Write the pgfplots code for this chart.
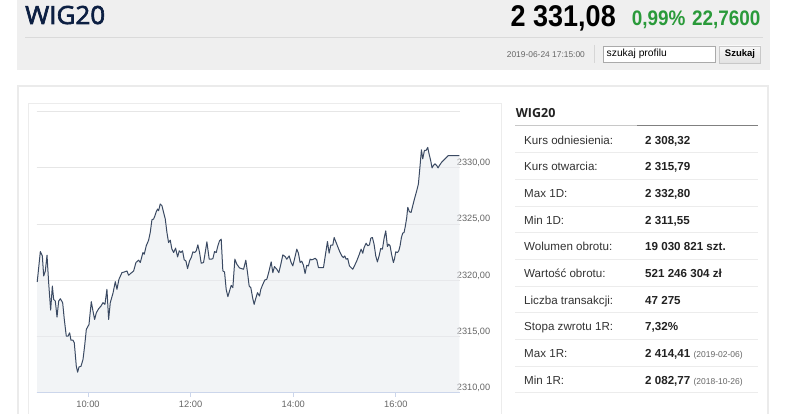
\documentclass[border=0pt]{standalone}
\usepackage{pgfplots}
\pgfplotsset{compat=1.18}
\usepackage{pgfplotstable}
\usepackage{fontspec}
\setmainfont{Liberation Sans}
\newfontfamily\cond[FakeStretch=0.9]{Liberation Sans}
\newfontfamily\osans{Open Sans}
\newfontfamily\osanshead[FakeBold=2.6,FakeStretch=1.04]{Open Sans}
\definecolor{bannerc}{HTML}{EFEFEF}
\definecolor{navy}{HTML}{0C1F42}
\definecolor{greenc}{HTML}{2A9A3A}
\definecolor{linec}{HTML}{3B4A63}
\definecolor{fillc}{HTML}{E8EBF0}
\definecolor{gridc}{HTML}{E6E6E6}
\definecolor{axisc}{HTML}{CCD6EB}
\definecolor{labc}{HTML}{666666}
\definecolor{framec}{HTML}{EBEBEB}
\definecolor{rowc}{HTML}{ECECEC}
\definecolor{txtc}{HTML}{333333}

\pgfplotstableread{
t v
9.010 2319.85
9.071 2322.56
9.110 2322.17
9.136 2320.39
9.168 2320.83
9.201 2322.23
9.233 2319.79
9.272 2317.35
9.305 2319.49
9.331 2318.30
9.363 2318.15
9.396 2316.73
9.428 2318.15
9.461 2318.36
9.506 2318.01
9.538 2316.52
9.577 2315.03
9.610 2315.03
9.642 2315.33
9.668 2314.67
9.707 2314.67
9.733 2314.43
9.772 2312.35
9.798 2311.82
9.824 2312.29
9.863 2312.35
9.902 2312.95
9.934 2314.14
9.967 2315.63
10.019 2316.07
10.064 2318.10
10.097 2317.26
10.129 2316.52
10.162 2317.11
10.207 2317.47
10.253 2317.71
10.291 2318.01
10.330 2317.86
10.369 2319.20
10.402 2316.52
10.434 2318.01
10.486 2318.84
10.532 2319.88
10.564 2319.20
10.603 2320.09
10.661 2320.68
10.707 2320.74
10.759 2320.83
10.791 2320.45
10.836 2320.63
10.889 2320.83
10.934 2321.58
10.986 2321.79
11.019 2321.58
11.070 2322.47
11.096 2322.32
11.135 2323.07
11.181 2323.57
11.213 2324.26
11.246 2325.39
11.278 2325.45
11.304 2325.74
11.330 2326.10
11.356 2326.34
11.376 2326.19
11.408 2326.79
11.441 2326.64
11.473 2326.04
11.506 2325.45
11.538 2324.26
11.570 2323.36
11.603 2323.57
11.635 2322.77
11.668 2322.47
11.707 2322.86
11.746 2322.08
11.778 2322.62
11.810 2322.47
11.843 2322.62
11.875 2321.82
11.908 2321.73
11.940 2321.04
11.979 2321.73
12.012 2322.02
12.044 2322.53
12.077 2322.47
12.109 2322.62
12.141 2323.15
12.174 2322.47
12.206 2321.52
12.252 2321.58
12.284 2322.47
12.317 2323.42
12.336 2322.77
12.362 2321.88
12.401 2321.88
12.434 2321.93
12.466 2322.56
12.499 2322.47
12.531 2323.07
12.563 2323.51
12.596 2323.66
12.628 2320.83
12.661 2320.74
12.693 2319.20
12.726 2318.54
12.758 2319.05
12.791 2319.55
12.823 2319.35
12.862 2321.88
12.901 2321.43
12.953 2321.10
12.992 2321.04
13.031 2320.98
13.076 2321.79
13.109 2320.68
13.141 2319.49
13.173 2319.35
13.212 2318.36
13.238 2317.86
13.264 2318.30
13.303 2318.90
13.342 2318.60
13.368 2319.20
13.407 2319.64
13.446 2320.03
13.485 2320.09
13.524 2320.74
13.570 2321.64
13.602 2320.68
13.634 2321.22
13.680 2320.98
13.719 2320.68
13.758 2321.43
13.797 2322.26
13.842 2322.11
13.874 2321.88
13.920 2322.17
13.959 2321.58
13.991 2321.28
14.024 2321.88
14.069 2322.77
14.101 2322.41
14.134 2321.58
14.166 2321.70
14.199 2321.34
14.231 2320.60
14.264 2321.34
14.296 2321.28
14.329 2321.88
14.361 2321.82
14.394 2321.88
14.426 2321.96
14.459 2321.82
14.491 2321.13
14.537 2321.13
14.589 2321.13
14.634 2322.47
14.667 2323.45
14.699 2322.41
14.732 2323.13
14.771 2323.13
14.797 2323.81
14.836 2323.36
14.881 2322.83
14.913 2322.47
14.946 2322.17
14.978 2322.02
15.004 2322.17
15.030 2321.88
15.062 2321.93
15.095 2321.28
15.127 2321.13
15.160 2320.98
15.192 2321.28
15.238 2321.73
15.283 2322.26
15.322 2322.77
15.355 2322.41
15.381 2322.92
15.420 2323.30
15.452 2323.07
15.485 2323.15
15.511 2323.75
15.543 2323.81
15.575 2323.21
15.608 2322.17
15.640 2321.64
15.673 2322.17
15.705 2322.83
15.738 2322.77
15.770 2323.72
15.803 2324.40
15.835 2323.01
15.861 2323.21
15.887 2323.07
15.920 2322.23
15.952 2321.58
15.972 2321.88
15.998 2322.53
16.030 2322.47
16.056 2322.62
16.082 2323.07
16.108 2323.81
16.134 2324.20
16.160 2324.26
16.186 2324.85
16.212 2325.60
16.232 2326.49
16.264 2326.10
16.297 2326.04
16.329 2326.64
16.362 2327.23
16.407 2327.98
16.439 2328.57
16.472 2330.21
16.498 2331.61
16.524 2330.80
16.556 2331.55
16.588 2331.55
16.621 2331.82
16.647 2331.25
16.679 2330.65
16.705 2330.00
16.731 2330.21
16.764 2330.36
16.796 2330.21
16.822 2330.00
16.848 2330.21
16.893 2330.51
16.958 2330.80
17.023 2331.10
17.120 2331.10
17.237 2331.10
}\wigdata

\begin{document}
\begin{tikzpicture}
\path[use as bounding box] (0pt,0pt) rectangle (786pt,-414pt);
\fill[white] (0pt,0pt) rectangle (786pt,-414pt);
% header banner
\fill[bannerc] (17pt,0pt) rectangle (770pt,-70pt);
\draw[line width=1pt,color={rgb,255:red,218;green,218;blue,218}] (25pt,-37.7pt) -- (763pt,-37.7pt);
\node[anchor=base west,inner sep=0pt,text=navy,font=\osanshead\fontsize{25}{30}\selectfont] at (25pt,-24pt) {WIG20};
\node[anchor=base west,inner sep=0pt,text=black,font=\cond\bfseries\fontsize{30}{36}\selectfont] at (510.5pt,-26.5pt) {2 331,08};
\node[anchor=base west,inner sep=0pt,text=greenc,font=\cond\bfseries\fontsize{21}{25}\selectfont] at (631.7pt,-25.7pt) {0,99\%};
\node[anchor=base east,inner sep=0pt,text=greenc,font=\cond\bfseries\fontsize{21}{25}\selectfont] at (760.7pt,-25.7pt) {22,7600};
\node[anchor=west,inner sep=0pt,text=labc,font=\fontsize{8.4}{10}\selectfont] at (506.7pt,-54.3pt) {2019-06-24 17:15:00};
\draw[line width=1pt,color={rgb,255:red,214;green,214;blue,214}] (594pt,-45pt) -- (594pt,-63pt);
\draw[fill=white,draw={rgb,255:red,170;green,170;blue,170},line width=0.8pt] (603.3pt,-46pt) rectangle (715.7pt,-62.7pt);
\node[anchor=west,inner sep=0pt,text=black,font=\fontsize{10.3}{12}\selectfont] at (606.5pt,-54.3pt) {szukaj profilu};
\shade[top color={rgb,255:red,248;green,248;blue,248},bottom color={rgb,255:red,226;green,226;blue,226}] (719pt,-46pt) rectangle (760.7pt,-63pt);
\draw[draw={rgb,255:red,200;green,200;blue,200},line width=0.8pt] (719pt,-46pt) rectangle (760.7pt,-63pt);
\node[inner sep=0pt,text=black,font=\bfseries\fontsize{9.5}{11}\selectfont] at (740pt,-54.5pt) {Szukaj};
% panel frames
\draw[framec,line width=2.5pt] (18pt,-414pt) -- (18pt,-86pt) -- (768pt,-86pt) -- (768pt,-414pt);
\draw[rowc,line width=1pt] (28.5pt,-414pt) -- (28.5pt,-104pt) -- (501pt,-104pt) -- (501pt,-414pt);
% table
\node[anchor=base west,inner sep=0pt,text={rgb,255:red,34;green,34;blue,34},font=\osans\bfseries\fontsize{12.5}{15}\selectfont] at (515.7pt,-117.3pt) {WIG20};
\draw[line width=1pt,color={rgb,255:red,200;green,200;blue,200}] (515pt,-126pt) -- (637pt,-126pt);
\draw[line width=1pt,color={rgb,255:red,128;green,128;blue,128}] (637pt,-126pt) -- (758pt,-126pt);
\foreach \i in {0,...,9} {
  \draw[rowc,line width=1pt] (515pt,{-152.7pt-26.67pt*\i}) -- (758pt,{-152.7pt-26.67pt*\i});
}
\foreach \i/\lab/\val in {0/{Kurs odniesienia:}/{2 308,32},1/{Kurs otwarcia:}/{2 315,79},2/{Max 1D:}/{2 332,80},3/{Min 1D:}/{2 311,55},4/{Wolumen obrotu:}/{19 030 821 szt.},5/{Wartość obrotu:}/{521 246 304 zł},6/{Liczba transakcji:}/{47 275},7/{Stopa zwrotu 1R:}/{7,32\%},8/{Max 1R:}/{2 414,41 {\mdseries\fontsize{8.5}{10}\selectfont\color{labc}(2019-02-06)}},9/{Min 1R:}/{2 082,77 {\mdseries\fontsize{8.5}{10}\selectfont\color{labc}(2018-10-26)}}} {
  \node[anchor=base west,inner sep=0pt,text=txtc,font=\fontsize{11.6}{14}\selectfont] at (524pt,{-144.2pt-26.67pt*\i}) {\lab};
  \node[anchor=base west,inner sep=0pt,text={rgb,255:red,34;green,34;blue,34},font=\bfseries\fontsize{11.6}{14}\selectfont] at (645pt,{-144.2pt-26.67pt*\i}) {\val};
}
% chart
\begin{axis}[
  at={(36.7pt,-392.7pt)}, anchor=south west,
  scale only axis, width=423.3pt, height=281pt,
  xmin=9.0, xmax=17.25, ymin=2310, ymax=2335,
  axis line style={draw=none},
  xtick={10,12,14,16}, xticklabels={10:00,12:00,14:00,16:00},
  ytick={2310,2315,2320,2325,2330,2335},
  yticklabels={{2310,00},{2315,00},{2320,00},{2325,00},{2330,00},{}},
  xtick pos=bottom, ytick pos=right, yticklabel pos=right,
  tick align=outside, major tick length=4pt,
  xtick style={color=axisc, line width=0.8pt},
  ytick style={draw=none},
  ymajorgrids, grid style={color=gridc, line width=0.9pt},
  xticklabel style={font=\fontsize{9.3}{11}\selectfont, text=labc, yshift=-1pt},
  yticklabel style={font=\fontsize{9.2}{11}\selectfont, text=labc, anchor=base west, inner sep=0pt, xshift=-7.3pt, yshift=2.2pt},
  clip=false,
]
\addplot[draw=none, fill=fillc, fill opacity=0.55] table[x=t,y=v] {\wigdata} \closedcycle;
\addplot[color=linec, line width=1pt, line join=round] table[x=t,y=v] {\wigdata};
\draw[axisc, line width=1pt] (axis cs:9.0,2310) -- (axis cs:17.25,2310);
\end{axis}
\end{tikzpicture}
\end{document}
